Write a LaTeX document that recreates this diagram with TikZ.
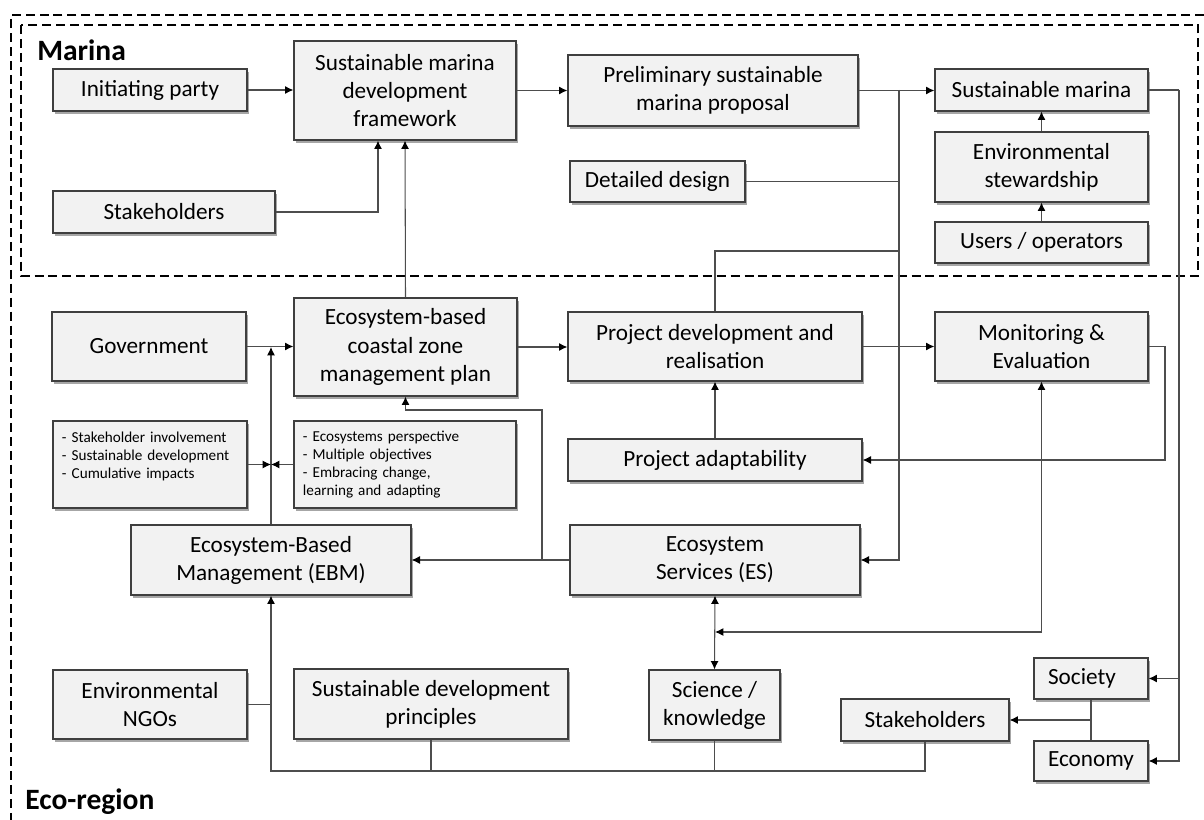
\documentclass[tikz,border=0pt]{standalone}
\usepackage{fontspec}
\setmainfont{Carlito}
\usepackage{tikz}
\usetikzlibrary{arrows.meta,shadows}
\definecolor{boxfill}{HTML}{F2F2F2}
\definecolor{boxline}{HTML}{3F3F3F}
\definecolor{wire}{HTML}{4D4D4D}
\tikzset{
  box/.style={draw=boxline, fill=boxfill, line width=0.8pt, align=center, inner sep=2pt,
    font=\fontsize{16.5}{20}\selectfont,
    drop shadow={shadow xshift=1.5pt, shadow yshift=-1.8pt, opacity=0.35, fill=black}},
  noteBox/.style={box, align=left, inner xsep=0.225cm, font=\fontsize{10.8}{13}\selectfont},
  wireLine/.style={draw=wire, line width=0.75pt},
  arrowLine/.style={wireLine, -{Latex[length=2.1mm,width=2mm,color=black]}},
  bothArrow/.style={wireLine, {Latex[length=2.1mm,width=2mm,color=black]}-{Latex[length=2.1mm,width=2mm,color=black]}},
  regionFrame/.style={draw=black, line width=1.2pt, dash pattern=on 6.4pt off 3.5pt},
  regionLab/.style={font=\fontsize{21}{24}\selectfont\bfseries, anchor=base west, inner sep=0pt}
}

\begin{document}
\begin{tikzpicture}[x=0.025cm, y=-0.025cm]
\useasboundingbox (0,0) rectangle (1204,820);

% region frames
\draw[regionFrame] (1204,15) -- (11,15) -- (11,820);
\draw[regionFrame] (21,25) rectangle (1198,276);
\node[regionLab] (marinaLab) at (37,61) {Marina};
\node[regionLab] (ecoLab) at (25,809) {Eco-region};

% marina level
\node[box, minimum width=4.85cm, minimum height=1.05cm] (init) at (150,90) {Initiating party};
\node[box, minimum width=5.55cm, minimum height=1.05cm] (stakeTop) at (164,212) {Stakeholders};
\node[box, minimum width=5.55cm, minimum height=2.475cm] (frame) at (405,90.5) {Sustainable marina\\development\\framework};
\node[box, minimum width=7.25cm, minimum height=1.775cm] (prelim) at (713,90.5) {Preliminary sustainable\\marina proposal};
\node[box, minimum width=4.375cm, minimum height=1.025cm] (detail) at (657.5,181.5) {Detailed design};
\node[box, minimum width=5.325cm, minimum height=1.05cm] (smarina) at (1041.5,90) {Sustainable marina};
\node[box, minimum width=5.325cm, minimum height=1.75cm] (stew) at (1041.5,167) {Environmental\\stewardship};
\node[box, minimum width=5.325cm, minimum height=1.025cm] (users) at (1041.5,242.5) {Users / operators};

% eco-region level
\node[box, minimum width=4.85cm, minimum height=1.725cm] (gov) at (149,346.5) {Government};
\node[box, minimum width=5.575cm, minimum height=2.45cm] (plan) at (405.5,347) {Ecosystem-based\\coastal zone\\management plan};
\node[box, minimum width=7.35cm, minimum height=1.725cm] (projdev) at (715,346.5) {Project development and\\realisation};
\node[box, minimum width=5.325cm, minimum height=1.725cm] (monitor) at (1041.5,346.5) {Monitoring \&\\Evaluation};
\node[noteBox, minimum width=4.85cm, minimum height=2.175cm, text width=4.4cm] (bulletL) at (150,464.5)
  {- Stakeholder involvement\\- Sustainable development\\- Cumulative impacts\\\mbox{}};
\node[noteBox, minimum width=5.55cm, minimum height=2.175cm, text width=5.1cm] (bulletR) at (405,464.5)
  {- Ecosystems perspective\\- Multiple objectives\\- Embracing change,\\learning and adapting};
\node[box, minimum width=7.35cm, minimum height=1.05cm] (adapt) at (715,460) {Project adaptability};
\node[box, minimum width=7cm, minimum height=1.75cm] (ebm) at (271,560) {Ecosystem-Based\\Management (EBM)};
\node[box, minimum width=7.25cm, minimum height=1.75cm] (es) at (715,560) {Ecosystem\\Services (ES)};
\node[box, minimum width=4.85cm, minimum height=1.725cm] (ngo) at (150,704.5) {Environmental\\NGOs};
\node[box, minimum width=6.85cm, minimum height=1.75cm] (sdp) at (431,704) {Sustainable development\\principles};
\node[box, minimum width=3.275cm, minimum height=1.75cm] (science) at (714.5,705) {Science /\\knowledge};
\node[box, minimum width=4.2cm, minimum height=1.05cm] (stakeBot) at (925,720) {Stakeholders};
\node[box, minimum width=2.85cm, minimum height=1.025cm] (society) at (1091,678.5) {\rlap{Society}\phantom{Economy}};
\node[box, minimum width=2.85cm, minimum height=1cm] (economy) at (1091,761) {Economy};

% junctions
\coordinate (busTop) at (899,90);
\coordinate (busMid) at (899,251);
\coordinate (busRight) at (1179,90);
\coordinate (monRight) at (1165,346.5);
\coordinate (sciJoin) at (715,632);
\coordinate (esUp) at (542,560);
\coordinate (planLow) at (542,410);
\coordinate (govJoin) at (271,347);
\coordinate (noteJoin) at (271,464.5);
\coordinate (baseLeft) at (271,771);

% marina links
\draw[arrowLine] (init.east) -- (init.east -| frame.west);
\draw[arrowLine] (stakeTop.east) -| ([xshift=-0.675cm]frame.south);
\draw[arrowLine] (frame.east) -- (frame.east -| prelim.west);
\draw[arrowLine] (prelim.east) -- (prelim.east -| smarina.west);
\draw[arrowLine] (stew.north) -- (smarina.south);
\draw[arrowLine] (users.north) -- (stew.south);
\draw[arrowLine] (plan.north) -- (frame.south);
\draw[wireLine] (detail.east) -- (detail.east -| busTop);
\draw[wireLine] (projdev.north) |- (busMid);
\draw[arrowLine] (busTop) |- (es.east);
\draw[wireLine] (smarina.east) -- (busRight);
\draw[arrowLine] (busRight) |- (economy.east);
\draw[arrowLine] (busRight |- society.east) -- (society.east);

% eco-region links
\draw[arrowLine] (gov.east) -- (gov.east -| plan.west);
\draw[arrowLine] (plan.east) -- (plan.east -| projdev.west);
\draw[arrowLine] (projdev.east) -- (projdev.east -| monitor.west);
\draw[arrowLine] (monitor.east) -- (monRight) |- (adapt.east);
\draw[arrowLine] (adapt.north) -- (projdev.south);
\draw[bothArrow] (monitor.south) |- (sciJoin);
\draw[bothArrow] (es.south) -- (science.north);
\draw[arrowLine] (es.west) -- (es.west -| ebm.east);
\draw[arrowLine] (esUp) -- (planLow) -| (plan.south);
\draw[arrowLine] (ebm.north) -- (govJoin);
\draw[arrowLine] (bulletL.east) -- (noteJoin);
\draw[arrowLine] (bulletR.west) -- (noteJoin);
\draw[arrowLine] (stakeBot.south) |- (baseLeft) -- (ebm.south);
\draw[wireLine] (sdp.south) -- (sdp.south |- baseLeft);
\draw[wireLine] (science.south) -- (science.south |- baseLeft);
\draw[wireLine] (ngo.east) -- (ngo.east -| baseLeft);
\draw[wireLine] (society.south) -- (economy.north);
\draw[arrowLine] (society.south |- stakeBot.east) -- (stakeBot.east);
\end{tikzpicture}
\end{document}
